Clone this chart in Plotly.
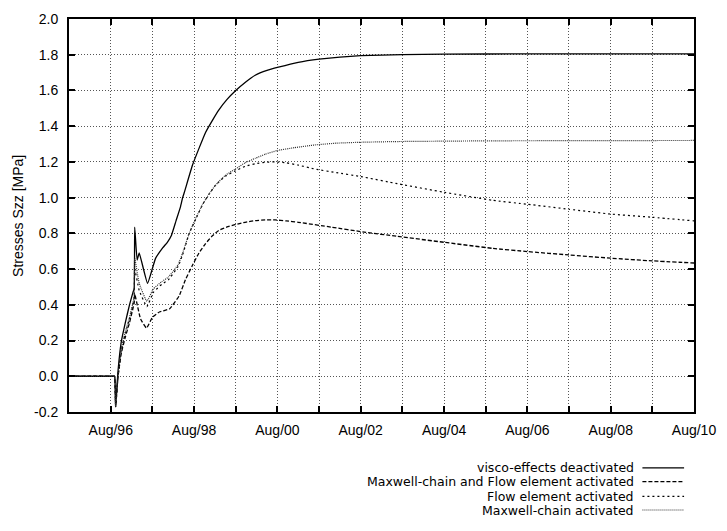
import numpy as np
import pandas as pd
import plotly.graph_objects as go

# Time axis: months after August 1996, converted to dates below
START = pd.Timestamp("1996-08-01")

# visco-effects deactivated
m_visco = [-12, -6, 0.5, 1.1, 1.4, 2.1, 3.05, 4.2, 5.4, 6.4, 6.75, 6.9, 7.6, 8.2, 10.6, 12.9, 15, 16.3,
           17.5, 18.8, 20.1, 20.7, 21.2, 23.5, 25.5, 27.3, 29.2, 31.1, 33.5, 36, 38.7, 41.6,
           45, 48.3, 54, 60, 66, 72, 84, 96, 120, 168]
s_visco = [0, 0, 0, 0, -0.17, 0.03, 0.195, 0.30, 0.40, 0.47, 0.49, 0.835, 0.65, 0.69, 0.52, 0.66, 0.72, 0.75,
           0.79, 0.87, 0.95, 1.0, 1.03, 1.18, 1.28, 1.365, 1.43, 1.49, 1.55, 1.60, 1.645, 1.685,
           1.712, 1.73, 1.757, 1.775, 1.787, 1.795, 1.801, 1.803, 1.805, 1.805]

# Maxwell-chain and Flow element activated
m_both = [-12, -6, 0.5, 1.1, 1.4, 2.1, 3.05, 4.2, 5.4, 6.4, 6.75, 6.9, 8.6, 10.3, 12, 14, 16.9, 19.7,
          21.5, 23.5, 25.4, 27.3, 29.2, 31.1, 33.5, 36, 38.7, 41.6, 44.5, 47.4, 50.5, 54,
          63.5, 73, 82.6, 96, 110, 120, 132, 144, 156, 168]
s_both = [0, 0, 0, 0, -0.17, 0.0, 0.13, 0.22, 0.30, 0.38, 0.41, 0.46, 0.32, 0.27, 0.33, 0.36, 0.377, 0.45,
          0.54, 0.62, 0.69, 0.743, 0.785, 0.816, 0.836, 0.85, 0.862, 0.871, 0.875, 0.875, 0.87, 0.862,
          0.835, 0.807, 0.783, 0.75, 0.716, 0.698, 0.679, 0.661, 0.646, 0.634]

# Flow element activated
m_flow = [-12, -6, 0.5, 1.1, 1.4, 2.1, 3.05, 4.2, 5.4, 6.4, 6.75, 6.9, 8.2, 10.4, 12.3, 14.7, 16.6, 19.4,
          20.7, 22.6, 24.5, 26.4, 28.3, 30.2, 33, 35.9, 38.7, 41.6, 44.5, 47.4, 50.5, 54,
          58.8, 65, 72, 82.6, 96, 110, 120, 132, 144, 156, 168]
s_flow = [0, 0, 0, 0, -0.17, 0.0, 0.15, 0.24, 0.32, 0.40, 0.44, 0.60, 0.48, 0.39, 0.47, 0.515, 0.54, 0.615,
          0.68, 0.80, 0.88, 0.96, 1.02, 1.07, 1.12, 1.15, 1.175, 1.19, 1.198, 1.20, 1.195, 1.182,
          1.16, 1.14, 1.118, 1.078, 1.03, 0.985, 0.963, 0.935, 0.908, 0.89, 0.87]

# Maxwell-chain activated
m_maxw = [-12, -6, 0.5, 1.1, 1.4, 2.1, 3.05, 4.2, 5.4, 6.4, 6.75, 6.9, 8.2, 10.4, 12.3, 14.7, 16.6, 19.4,
          20.7, 22.6, 24.5, 26.4, 28.3, 30.2, 33, 35.9, 38.7, 41.6, 44.5, 48, 53, 58.8,
          65, 72, 82.6, 110, 168]
s_maxw = [0, 0, 0, 0, -0.17, 0.0, 0.15, 0.25, 0.33, 0.41, 0.45, 0.66, 0.52, 0.42, 0.49, 0.53, 0.555, 0.625,
          0.69, 0.80, 0.885, 0.96, 1.02, 1.07, 1.125, 1.16, 1.195, 1.22, 1.243, 1.264, 1.28, 1.295,
          1.305, 1.31, 1.314, 1.318, 1.32]

tick_years = list(range(1996, 2011))
y_ticks = [-0.2, 0.0, 0.2, 0.4, 0.6, 0.8, 1.0, 1.2, 1.4, 1.6, 1.8, 2.0]

series = [
    ("visco-effects deactivated", m_visco, s_visco, "solid", "black", 1.3),
    ("Maxwell-chain and Flow element activated", m_both, s_both, "4px,2px", "black", 1.3),
    ("Flow element activated", m_flow, s_flow, "2px,3px", "black", 1.2),
    ("Maxwell-chain activated", m_maxw, s_maxw, "1px,1px", "#333333", 1.2),
]


def to_dates(months):
    return START + pd.to_timedelta(np.asarray(months, dtype=float) * 30.436875, unit="D")


W, H = 727, 531
L, R, T, B = 69, 28, 11, 119
FONT = "Liberation Sans"
FS = 14
KEY_FONT = dict(family="DejaVu Sans", size=12.5, color="black")

fig = go.Figure()
for name, m, s, dash, color, width in series:
    fig.add_trace(go.Scatter(x=to_dates(m), y=s, mode="lines", name=name,
                             line=dict(color=color, width=width, dash=dash,
                                       shape="spline", smoothing=0.35),
                             showlegend=False))

axis_common = dict(showline=True, linecolor="black", linewidth=2, mirror="ticks",
                   ticks="inside", ticklen=6, tickwidth=1.5, tickcolor="black",
                   showgrid=True, gridcolor="#555555", gridwidth=1, griddash="1px,2px",
                   zeroline=False, tickfont=dict(family=FONT, size=FS, color="black"))

fig.update_xaxes(type="date", range=["1995-08-01", "2010-08-01"],
                 tickvals=[f"{y}-08-01" for y in tick_years],
                 ticktext=[f"Aug/{y % 100:02d}" if y % 2 == 0 else "" for y in tick_years],
                 ticklabelstandoff=4, **axis_common)
fig.update_yaxes(range=[-0.2, 2.0], tickvals=y_ticks,
                 ticktext=[f"{v:.1f}" for v in y_ticks],
                 ticklabelstandoff=6, **axis_common)

# Y-axis title
fig.add_annotation(text="Stresses Szz [MPa]", xref="paper", yref="paper",
                   x=(17 - L) / (W - L - R), y=0.5, textangle=-90, showarrow=False,
                   xanchor="center", yanchor="middle",
                   font=dict(family=FONT, size=FS, color="black"))

# Key below the plot: right-aligned labels with line samples on the right
pw, ph = W - L - R, H - T - B
key_rows = [469, 483, 498, 512]
for (name, m, s, dash, color, width), py in zip(series, key_rows):
    yp = (H - B - py) / ph
    fig.add_annotation(text=name, xref="paper", yref="paper", x=(641 - L) / pw, y=yp,
                       xanchor="right", yanchor="middle", showarrow=False,
                       font=KEY_FONT)
    fig.add_shape(type="line", xref="paper", yref="paper",
                  x0=(647 - L) / pw, x1=(689 - L) / pw, y0=yp, y1=yp,
                  line=dict(color=color, width=width, dash=dash))

fig.update_layout(width=W, height=H, margin=dict(l=L, r=R, t=T, b=B),
                  plot_bgcolor="white", paper_bgcolor="white", showlegend=False)

fig.write_html("out.html")
